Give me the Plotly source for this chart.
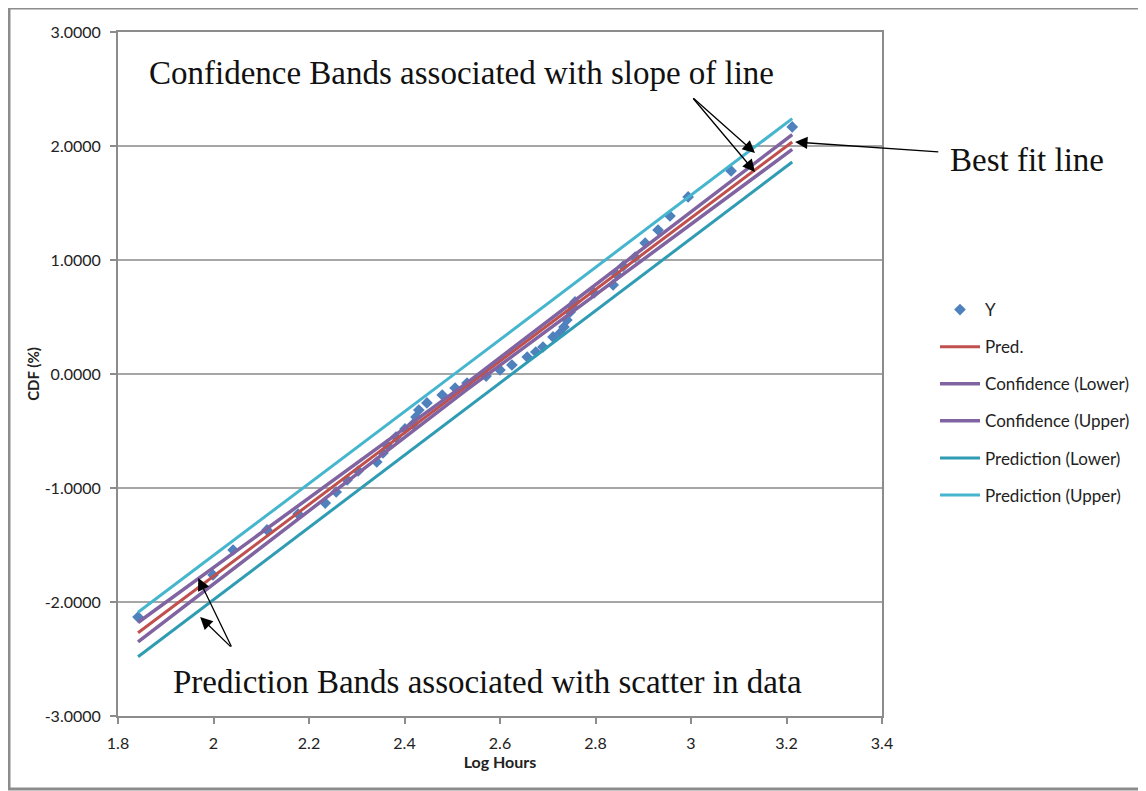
import plotly.graph_objects as go

# ---- data ----
log_hours = [1.842, 1.999, 2.041, 2.112, 2.177, 2.234, 2.257, 2.280, 2.303, 2.342,
             2.355, 2.363, 2.382, 2.401, 2.418, 2.424, 2.430, 2.447, 2.479, 2.506,
             2.531, 2.571, 2.600, 2.625, 2.657, 2.675, 2.690, 2.711, 2.726, 2.734,
             2.740, 2.747, 2.751, 2.757, 2.797, 2.837, 2.845, 2.858, 2.883, 2.904,
             2.931, 2.956, 2.994, 3.084, 3.212]
cdf = [-2.132, -1.763, -1.544, -1.368, -1.228, -1.132, -1.035, -0.930, -0.851, -0.772,
       -0.693, -0.623, -0.553, -0.482, -0.439, -0.377, -0.316, -0.254, -0.184, -0.123,
       -0.079, -0.018, 0.035, 0.079, 0.149, 0.193, 0.237, 0.325, 0.360, 0.412,
       0.474, 0.544, 0.596, 0.632, 0.711, 0.781, 0.868, 0.947, 1.026, 1.149,
       1.263, 1.386, 1.553, 1.781, 2.167]

line_x = [1.842, 2.53, 3.212]
pred = [-2.27, -0.11, 2.035]
conf_lower = [-2.35, -0.14, 1.97]
conf_upper = [-2.18, -0.08, 2.10]
pi_lower = [-2.48, -0.30, 1.86]
pi_upper = [-2.09, 0.08, 2.24]

x_ticks = [1.8, 2.0, 2.2, 2.4, 2.6, 2.8, 3.0, 3.2, 3.4]
y_ticks = [-3, -2, -1, 0, 1, 2, 3]

# page has an 8px body margin; positions below are in page pixels
OFF = 8
W, H = 1146 - OFF, 791 - OFF
PL, PR, PT, PB = 118, 882, 32, 716          # plot area in page pixels
L, T = PL - OFF, PT - OFF
R = W - (PR - OFF)
B = H - (PB - OFF)
pw, ph = PR - PL, PB - PT

def px(xp):
    return (xp - PL) / pw

def py(yp):
    return (PB - yp) / ph

fig = go.Figure()

fig.add_trace(go.Scatter(x=log_hours, y=cdf, mode="markers", name="Y",
                         marker=dict(symbol="diamond", size=9, color="#4F81BD",
                                     line=dict(width=0)),
                         legendgroup="a"))
fig.add_trace(go.Scatter(x=line_x, y=pred, mode="lines", name="Pred.",
                         line=dict(color="#C0504D", width=3), legendgroup="b"))
fig.add_trace(go.Scatter(x=line_x, y=conf_lower, mode="lines", name="Confidence (Lower)",
                         line=dict(color="#8064A2", width=3.5), legendgroup="c"))
fig.add_trace(go.Scatter(x=line_x, y=conf_upper, mode="lines", name="Confidence (Upper)",
                         line=dict(color="#8064A2", width=3.5), legendgroup="d"))
fig.add_trace(go.Scatter(x=line_x, y=pi_lower, mode="lines", name="Prediction (Lower)",
                         line=dict(color="#2F9CB4", width=3), legendgroup="e"))
fig.add_trace(go.Scatter(x=line_x, y=pi_upper, mode="lines", name="Prediction (Upper)",
                         line=dict(color="#45B6CE", width=3), legendgroup="f"))

sans = "Lato, Open Sans, sans-serif"
tick_font = dict(family=sans, size=16, color="#222")

fig.update_layout(
    width=W, height=H,
    margin=dict(l=L, r=R, t=T, b=B, autoexpand=False),
    paper_bgcolor="white", plot_bgcolor="white",
    showlegend=True,
    legend=dict(x=px(935), y=py(292), xanchor="left", yanchor="top",
                font=dict(family=sans, size=17, color="#222"),
                tracegroupgap=12, itemwidth=40, bgcolor="rgba(0,0,0,0)"),
    xaxis=dict(range=[1.8, 3.4], tickvals=x_ticks,
               ticktext=[f"{v:g}" for v in x_ticks],
               showgrid=False, zeroline=False,
               showline=True, linecolor="#8c8c8c", linewidth=2, mirror=True,
               ticks="outside", ticklen=6, tickcolor="#8c8c8c", tickwidth=2,
               tickfont=tick_font, ticklabelstandoff=6,
               title=dict(text="<b>Log Hours</b>",
                          font=dict(family=sans, size=16, color="#222"),
                          standoff=2)),
    yaxis=dict(range=[-3, 3], tickvals=y_ticks,
               ticktext=[f"{v:.4f}" for v in y_ticks],
               showgrid=True, gridcolor="#a6a6a6", gridwidth=2, zeroline=False,
               showline=True, linecolor="#8c8c8c", linewidth=2, mirror=True,
               ticks="outside", ticklen=6, tickcolor="#8c8c8c", tickwidth=2,
               tickfont=tick_font, ticklabelstandoff=6,
               title=dict(text="<b>CDF (%)</b>",
                          font=dict(family=sans, size=15, color="#222"),
                          standoff=1)),
)

serif = dict(family="Liberation Serif, Times New Roman, serif", size=33, color="#111")

notes = [
    (461, 73, "Confidence Bands associated with slope of line"),
    (1027, 160, "Best fit line"),
    (487, 682, "Prediction Bands associated with scatter in data"),
]
for nx, ny, txt in notes:
    fig.add_annotation(x=px(nx), y=py(ny), xref="paper", yref="paper",
                       xanchor="center", yanchor="middle",
                       text=txt, showarrow=False, font=serif)

arrows = [
    (3.134, 1.939, 3.002, 2.43),
    (3.134, 1.772, 3.002, 2.43),
    (3.218, 2.035, 3.521, 1.947),
    (1.968, -1.789, 2.039, -2.404),
    (1.972, -2.132, 2.039, -2.404),
]
for hx, hy, tx, ty in arrows:
    fig.add_annotation(x=hx, y=hy, ax=tx, ay=ty, xref="x", yref="y",
                       axref="x", ayref="y", text="", showarrow=True,
                       arrowhead=2, arrowsize=1.9, arrowwidth=1.3, arrowcolor="#000")

fig.add_shape(type="rect", xref="paper", yref="paper",
              x0=px(9), x1=px(1140), y0=py(789), y1=py(8),
              line=dict(color="#8c8c8c", width=3), fillcolor="rgba(0,0,0,0)",
              layer="below")

fig.write_html("out.html")
